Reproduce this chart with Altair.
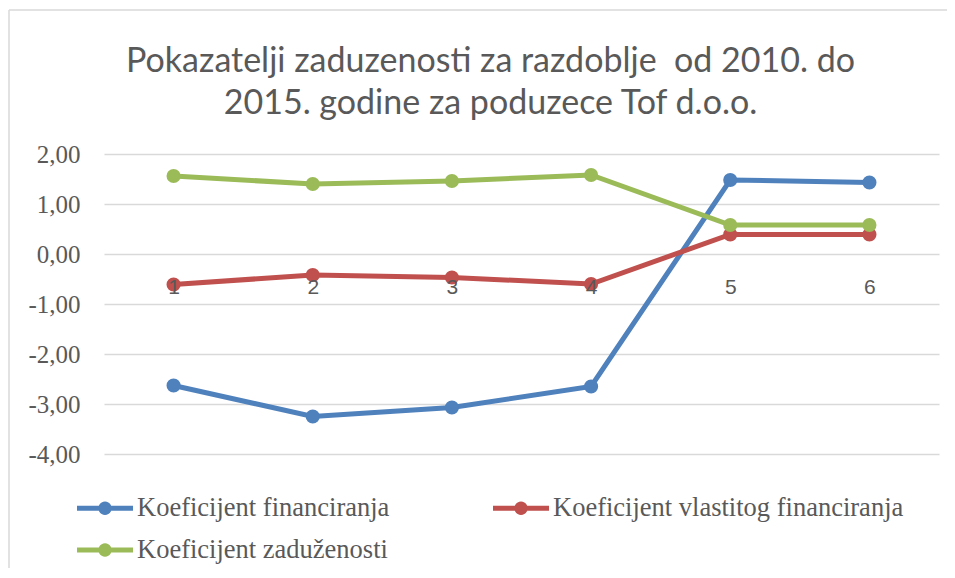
import math
import altair as alt
import pandas as pd

# ---- data ----
years = ["1", "2", "3", "4", "5", "6"]
series_names = [
    "Koeficijent financiranja",
    "Koeficijent vlastitog financiranja",
    "Koeficijent zaduženosti",
]
koef_financiranja = [-2.63, -3.25, -3.07, -2.65, 1.48, 1.43]
koef_vlastitog = [-0.61, -0.42, -0.47, -0.60, 0.39, 0.39]
koef_zaduzenosti = [1.56, 1.40, 1.46, 1.58, 0.58, 0.58]
colors = ["#4F81BD", "#C0504D", "#9BBB59"]
title_lines = [
    "Pokazatelji zaduzenosti za razdoblje\u00a0 od 2010. do",
    "2015. godine za poduzece Tof d.o.o.",
]

rows = []
for name, col, vals in zip(series_names, colors,
                           [koef_financiranja, koef_vlastitog, koef_zaduzenosti]):
    for yr, v in zip(years, vals):
        rows.append({"godina": yr, "serija": name, "boja": col, "vrijednost": v})
df = pd.DataFrame(rows)

# legend glyph: thick line with a dot in the middle (unit square [-1,1])
_h = 0.09
_r = 0.24
_circle = " ".join(
    ("M" if i == 0 else "L") + f"{_r * math.cos(2 * math.pi * i / 24):.3f},{_r * math.sin(2 * math.pi * i / 24):.3f}"
    for i in range(24)
)
legend_symbol = f"M-1,{-_h} L1,{-_h} L1,{_h} L-1,{_h} Z {_circle} Z"

x_enc = alt.X(
    "godina:O",
    sort=years,
    scale=alt.Scale(type="point", padding=0.5),
    axis=alt.Axis(
        title=None, domain=False, ticks=False, grid=False, labelAngle=0,
        offset=-200, labelPadding=22, labelFont="Liberation Sans",
        labelFontSize=21, labelColor="#595959", zindex=1,
    ),
)
y_enc = alt.Y(
    "vrijednost:Q",
    scale=alt.Scale(domain=[-4, 2], nice=False, zero=False),
    axis=alt.Axis(
        title=None, domain=False, ticks=False, values=[-4, -3, -2, -1, 0, 1, 2],
        labelExpr="(datum.value < 0 ? '-' : '') + replace(format(abs(datum.value), '.2f'), '.', ',')",
        labelFont="Liberation Serif", labelFontSize=25, labelColor="#595959",
        labelPadding=24, gridColor="#d9d9d9", gridWidth=1.5,
    ),
)

lines = alt.Chart(df).mark_line(strokeWidth=5).encode(
    x=x_enc, y=y_enc,
    stroke=alt.Stroke("boja:N", scale=None),
    detail="serija:N",
)
points = alt.Chart(df).mark_circle(size=200, opacity=1).encode(
    x=x_enc, y=y_enc,
    color=alt.Color(
        "serija:N", sort=series_names,
        scale=alt.Scale(domain=series_names, range=colors),
        legend=alt.Legend(
            title=None, orient="none", legendX=-27, legendY=326, columns=2,
            direction="horizontal",
            symbolType=legend_symbol, symbolSize=3136, symbolStrokeWidth=0,
            labelFont="Liberation Serif", labelFontSize=26.5, labelColor="#595959",
            labelLimit=600, labelOffset=4, columnPadding=103, rowPadding=-8,
            padding=0,
        ),
    ),
)

frame_left = alt.Chart(alt.Data(values=[{}])).mark_rule(color="#d9d9d9", strokeWidth=1.5).encode(
    x=alt.value(-95), y=alt.value(-144), y2=alt.value(424)
)
frame_top = alt.Chart(alt.Data(values=[{}])).mark_rule(color="#d9d9d9", strokeWidth=1.5).encode(
    x=alt.value(-95), x2=alt.value(843), y=alt.value(-144)
)

chart = alt.layer(frame_left, frame_top, lines, points).properties(
    width=835,
    height=300,
    autosize=alt.AutoSizeParams(type="none"),
    padding={"left": 96, "top": 146, "right": 8, "bottom": 114},
    title=alt.TitleParams(
        text=title_lines, anchor="middle", dx=-31, offset=-112, lineHeight=42,
        font="Lato", fontSize=34, fontWeight="normal", color="#595959",
    ),
).configure(
    background="white",
    view=alt.ViewConfig(strokeWidth=0),
)

chart.save("out.html", embed_options={"renderer": "svg", "actions": False})
